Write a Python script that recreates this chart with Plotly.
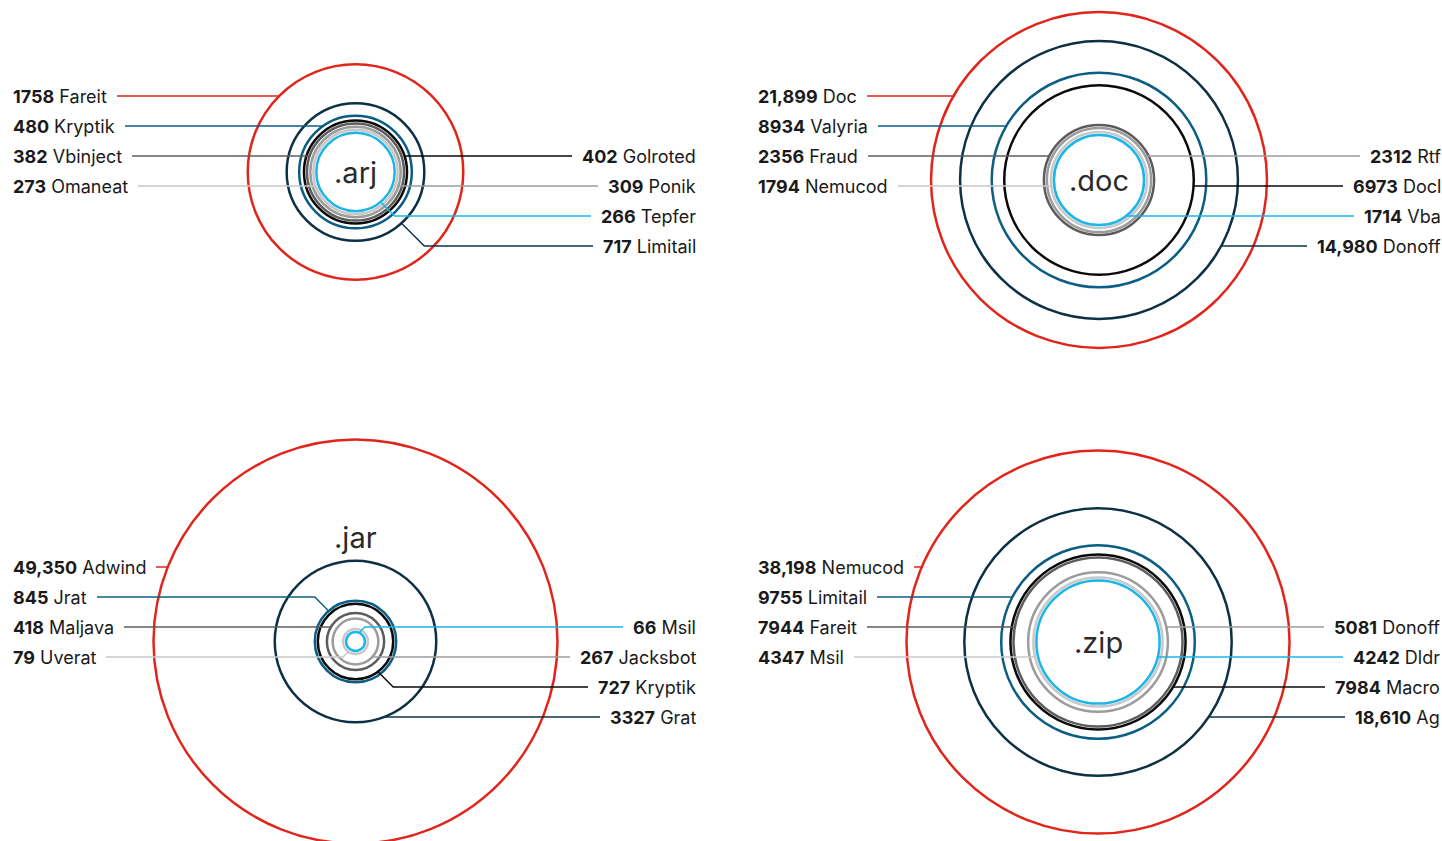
import math
import plotly.graph_objects as go

# ---------------- data ----------------
panel_labels = [".arj", ".doc", ".jar", ".zip"]

arj_left_names = ["Fareit", "Kryptik", "Vbinject", "Omaneat"]
arj_left_values = [1758, 480, 382, 273]
arj_right_names = ["Golroted", "Ponik", "Tepfer", "Limitail"]
arj_right_values = [402, 309, 266, 717]

doc_left_names = ["Doc", "Valyria", "Fraud", "Nemucod"]
doc_left_values = [21899, 8934, 2356, 1794]
doc_right_names = ["Rtf", "Docl", "Vba", "Donoff"]
doc_right_values = [2312, 6973, 1714, 14980]

jar_left_names = ["Adwind", "Jrat", "Maljava", "Uverat"]
jar_left_values = [49350, 845, 418, 79]
jar_right_names = ["Msil", "Jacksbot", "Kryptik", "Grat"]
jar_right_values = [66, 267, 727, 3327]

zip_left_names = ["Nemucod", "Limitail", "Fareit", "Msil"]
zip_left_values = [38198, 9755, 7944, 4347]
zip_right_names = ["Donoff", "Dldr", "Macro", "Ag"]
zip_right_values = [5081, 4242, 7984, 18610]

# colour by rank inside a panel (largest first)
rank_colors = ["#e1251b", "#0c3044", "#0b5d84", "#0a0a0a",
               "#5c5c5c", "#9c9c9c", "#c8c8c8", "#1bb5e8"]

# ---------------- layout ----------------
W, H = 1442, 841
top_rows = [96, 126, 156, 186, 216, 246]
bottom_rows = [567, 597, 627, 657, 687, 717]
RING_GAP = 3  # minimum visual gap between neighbouring rings (px)

panels = [
    dict(label=panel_labels[0], cx=355.5, cy=172, scale=2.57, cap=None,
         rows=top_rows, lx=13, rx=696, ty=172,
         ln=arj_left_names, lv=arj_left_values, rn=arj_right_names, rv=arj_right_values),
    dict(label=panel_labels[1], cx=1099, cy=180, scale=1.135, cap=None,
         rows=top_rows, lx=758, rx=1441, ty=180,
         ln=doc_left_names, lv=doc_left_values, rn=doc_right_names, rv=doc_right_values),
    dict(label=panel_labels[2], cx=355.5, cy=641.5, scale=1.40, cap=202,
         rows=bottom_rows, lx=13, rx=696, ty=537,
         ln=jar_left_names, lv=jar_left_values, rn=jar_right_names, rv=jar_right_values),
    dict(label=panel_labels[3], cx=1098, cy=642, scale=0.98, cap=None,
         rows=bottom_rows, lx=758, rx=1440, ty=642,
         ln=zip_left_names, lv=zip_left_values, rn=zip_right_names, rv=zip_right_values),
]

FONT = "Inter, Roboto, 'Noto Sans', sans-serif"
LABEL_SIZE = 18
PAD = 2
BORDER = 2
GAP = "\u2004"   # spacing between label text and its leader line


def fmt(v):
    return f"{v:,}" if v >= 10000 else str(v)


def leader(cx, cy, r, ly, side, x_text):
    dy = ly - cy
    if abs(dy) < r:
        xe = cx + side * math.sqrt(r * r - dy * dy)
        return [x_text, xe], [ly, ly]
    ex = cx + side * r
    sy = 1 if dy > 0 else -1
    s = r + abs(dy)
    t = (2 * s - math.sqrt(4 * s * s - 8 * dy * dy)) / 4
    return [x_text, ex, ex - side * t], [ly, ly, ly - sy * t]


fig = go.Figure()
shapes = []
annotations = []

for p in panels:
    values = p["lv"] + p["rv"]
    order = sorted(values, reverse=True)
    radii = {}
    prev = None
    for v in order:
        r = p["scale"] * math.sqrt(v)
        if p["cap"] is not None:
            r = min(r, p["cap"])
        if prev is not None:
            r = min(r, prev - RING_GAP)
        radii[v] = r
        prev = r

    def color(v):
        return rank_colors[order.index(v)]

    # rings, largest first
    for v in order:
        r = radii[v]
        shapes.append(dict(type="circle", xref="x", yref="y", layer="below",
                           x0=p["cx"] - r, x1=p["cx"] + r,
                           y0=p["cy"] - r, y1=p["cy"] + r,
                           line=dict(color=color(v), width=2.5)))

    # labels + leaders
    for i, (n, v) in enumerate(zip(p["ln"], p["lv"])):
        ly = p["rows"][i]
        xs, ys = leader(p["cx"], p["cy"], radii[v], ly, -1, p["lx"] + 10)
        fig.add_trace(go.Scatter(x=xs, y=ys, mode="lines", hoverinfo="skip",
                                 line=dict(color=color(v), width=1.4), showlegend=False))
        annotations.append(dict(x=(p["lx"] - PAD - BORDER) / W, y=ly, xref="paper", yref="y",
                                xanchor="left", yanchor="middle", showarrow=False,
                                text=f"<b>{fmt(v)}</b> {n}{GAP}", bgcolor="white",
                                borderpad=PAD, borderwidth=BORDER, bordercolor="white",
                                font=dict(family=FONT, size=LABEL_SIZE, color="#1a1a1a")))
    for i, (n, v) in enumerate(zip(p["rn"], p["rv"])):
        ly = p["rows"][i + 2]
        xs, ys = leader(p["cx"], p["cy"], radii[v], ly, 1, p["rx"] - 10)
        fig.add_trace(go.Scatter(x=xs, y=ys, mode="lines", hoverinfo="skip",
                                 line=dict(color=color(v), width=1.4), showlegend=False))
        annotations.append(dict(x=(p["rx"] + PAD + BORDER) / W, y=ly, xref="paper", yref="y",
                                xanchor="right", yanchor="middle", showarrow=False,
                                text=f"{GAP}<b>{fmt(v)}</b> {n}", bgcolor="white",
                                borderpad=PAD, borderwidth=BORDER, bordercolor="white",
                                font=dict(family=FONT, size=LABEL_SIZE, color="#1a1a1a")))

    annotations.append(dict(x=p["cx"], y=p["ty"], xref="x", yref="y",
                            xanchor="center", yanchor="middle", showarrow=False,
                            text=p["label"],
                            font=dict(family=FONT, size=29, color="#2a2a2a")))

fig.update_layout(
    width=W, height=H,
    margin=dict(l=0, r=0, t=0, b=0),
    paper_bgcolor="white", plot_bgcolor="white",
    xaxis=dict(range=[0, W], visible=False, fixedrange=True),
    yaxis=dict(range=[H, 0], visible=False, fixedrange=True),
    shapes=shapes, annotations=annotations,
    showlegend=False, hovermode=False,
)

fig.write_html("out.html", config={"displayModeBar": False},
               post_script="document.body.style.margin='0';")
